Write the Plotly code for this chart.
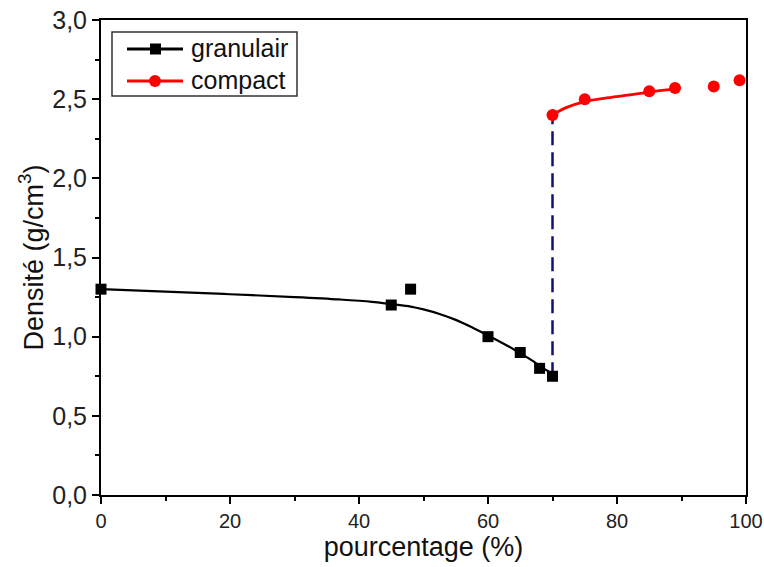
import plotly.graph_objects as go

# measured points
gran_x = [0, 45, 48, 60, 65, 68, 70]
gran_y = [1.30, 1.20, 1.30, 1.00, 0.90, 0.80, 0.75]
comp_x = [70, 75, 85, 89, 95, 99]
comp_y = [2.40, 2.50, 2.55, 2.57, 2.58, 2.62]

# fitted curves
gran_fit_x = [0, 10, 20, 30, 37, 42, 45, 48, 50, 52.6, 55, 57.7, 60, 63, 65, 67, 68, 70]
gran_fit_y = [1.30, 1.285, 1.268, 1.25, 1.235, 1.22, 1.205, 1.19, 1.172, 1.142, 1.106, 1.055, 1.008, 0.943, 0.895, 0.845, 0.815, 0.765]
comp_fit_x = [70, 72, 75, 78, 82, 85, 89]
comp_fit_y = [2.40, 2.445, 2.485, 2.505, 2.527, 2.545, 2.565]

# transition
trans_x = [70, 70]
trans_y = [0.75, 2.40]

legend_names = ["granulair", "compact"]
legend_colors = ["black", "red"]

FONT = "Liberation Sans, Arial, sans-serif"
W, H = 764, 567
ML, MR, MT, MB = 101, 18, 20, 72
PW, PH = W - ML - MR, H - MT - MB


def px_x(px):
    return (px - ML) / PW


def px_y(py):
    return (H - MB - py) / PH


fig = go.Figure()
fig.add_trace(go.Scatter(x=trans_x, y=trans_y, mode="lines",
                         line=dict(color="#10107a", width=2.5, dash="14px,7px"),
                         showlegend=False, hoverinfo="skip"))
fig.add_trace(go.Scatter(x=gran_fit_x, y=gran_fit_y, mode="lines",
                         line=dict(color="black", width=2.2, shape="spline", smoothing=1),
                         showlegend=False))
fig.add_trace(go.Scatter(x=comp_fit_x, y=comp_fit_y, mode="lines",
                         line=dict(color="red", width=2.8, shape="spline", smoothing=1),
                         showlegend=False))
fig.add_trace(go.Scatter(x=gran_x, y=gran_y, mode="markers", name="granulair",
                         marker=dict(symbol="square", size=11, color="black"),
                         showlegend=False, cliponaxis=False))
fig.add_trace(go.Scatter(x=comp_x, y=comp_y, mode="markers", name="compact",
                         marker=dict(symbol="circle", size=12, color="red"),
                         showlegend=False, cliponaxis=False))

# manual legend (box, line samples, markers, labels)
shapes = [dict(type="rect", xref="paper", yref="paper",
               x0=px_x(112), x1=px_x(297), y0=px_y(96), y1=px_y(32),
               line=dict(color="#333", width=1.5), fillcolor="rgba(0,0,0,0)")]
annotations = []
rows = [49, 81]
for name, col, py in zip(legend_names, legend_colors, rows):
    shapes.append(dict(type="line", xref="paper", yref="paper",
                       x0=px_x(127), x1=px_x(183), y0=px_y(py), y1=px_y(py),
                       line=dict(color=col, width=2.8)))
    if name == "granulair":
        shapes.append(dict(type="rect", xref="paper", yref="paper",
                           x0=px_x(150), x1=px_x(161), y0=px_y(py + 5.5), y1=px_y(py - 5.5),
                           line=dict(width=0), fillcolor=col))
    else:
        shapes.append(dict(type="circle", xref="paper", yref="paper",
                           x0=px_x(149), x1=px_x(161), y0=px_y(py + 6), y1=px_y(py - 6),
                           line=dict(width=0), fillcolor=col))
    annotations.append(dict(xref="paper", yref="paper", x=px_x(189), y=px_y(py - 1),
                            xanchor="left", yanchor="middle", showarrow=False,
                            text=name, font=dict(size=25, family=FONT, color="#111")))

fig.update_layout(
    width=W, height=H,
    margin=dict(l=ML, r=MR, t=MT, b=MB),
    plot_bgcolor="white", paper_bgcolor="white",
    separators=",.",
    font=dict(family=FONT, color="black", size=18),
    showlegend=False,
    shapes=shapes,
    annotations=annotations,
)
fig.update_xaxes(
    range=[0, 100], tickvals=[0, 20, 40, 60, 80, 100],
    showgrid=False, zeroline=False, automargin=False,
    showline=True, linecolor="black", linewidth=2, mirror=True,
    ticks="outside", ticklen=7, tickwidth=2, tickcolor="black",
    minor=dict(tickvals=[10, 30, 50, 70, 90], ticks="outside", ticklen=4, tickwidth=2, tickcolor="black"),
    tickfont=dict(size=20, family=FONT, color="#222"),
    title=dict(text="pourcentage (%)", font=dict(size=27, family=FONT, color="#111"), standoff=4),
)
fig.update_yaxes(
    range=[0, 3], tickvals=[0, 0.5, 1, 1.5, 2, 2.5, 3], tickformat=".1f",
    showgrid=False, zeroline=False, automargin=False,
    showline=True, linecolor="black", linewidth=2, mirror=True,
    ticks="outside", ticklen=7, tickwidth=2, tickcolor="black",
    minor=dict(tickvals=[0.25, 0.75, 1.25, 1.75, 2.25, 2.75], ticks="outside", ticklen=4, tickwidth=2, tickcolor="black"),
    tickfont=dict(size=25, family=FONT, color="#222"),
    title=dict(text="Densité (g/cm<sup>3</sup>)", font=dict(size=27, family=FONT, color="#111"), standoff=1),
)

fig.write_html("out.html")
